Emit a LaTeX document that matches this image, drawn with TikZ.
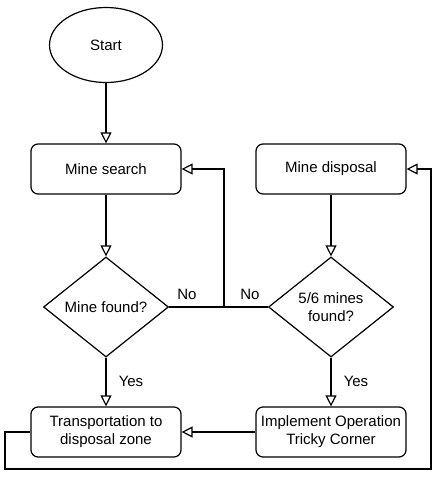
\documentclass[tikz,border=0pt]{standalone}
\usepackage{fontspec}
\setmainfont{Liberation Sans}
\usetikzlibrary{shapes.geometric,arrows.meta}
\begin{document}
\begin{tikzpicture}[x=1pt,y=-1pt,
  every node/.style={font=\fontsize{15}{18}\selectfont, align=center, text=black},
  proc/.style={draw, line width=1.2pt, rounded corners=7pt, minimum width=150pt, minimum height=50pt, inner sep=0pt},
  dec/.style={draw, line width=1.2pt, diamond, aspect=1.25, minimum width=125pt, minimum height=100pt, inner sep=0pt},
  term/.style={draw, line width=1.2pt, ellipse, minimum width=113pt, minimum height=75pt, inner sep=0pt},
  arr/.style={draw, line width=1.2pt, -{Triangle[open, length=11pt, width=11pt, line width=1.2pt]}},
  lbl/.style={draw=none, inner sep=0pt}
]
\useasboundingbox (0,0) rectangle (440,483);
\node[term] (start) at (106,45) {Start};
\node[proc] (search) at (106,169) {Mine search};
\node[proc] (disposal) at (331,169) {Mine disposal};
\node[dec] (found) at (106,307) {Mine found?};
\node[dec] (d56) at (331,307) {5/6 mines\\found?};
\node[proc] (transport) at (106,432) {Transportation to\\disposal zone};
\node[proc] (implement) at (331,432) {Implement Operation\\Tricky Corner};
\coordinate (J) at (224,307);
\coordinate (BL) at (5,469);
\coordinate (BR) at (431,469);

\draw[arr] (start) -- (search);
\draw[arr] (search) -- (found);
\draw[arr] (disposal) -- (d56);
\draw[arr] (found) -- (transport);
\draw[arr] (d56) -- (implement);
\draw[arr] (found.east) -- (J) |- (search.east);
\draw[line width=1.2pt] (d56.west) -- (J);
\draw[arr] (implement) -- (transport);
\draw[arr] (transport.west) -| (BL) -- (BR) |- (disposal.east);

\node[lbl] (no1) at (187,294) {No};
\node[lbl] (no2) at (250,294) {No};
\node[lbl] (yes1) at (131,381) {Yes};
\node[lbl] (yes2) at (356,381) {Yes};
\end{tikzpicture}
\end{document}
